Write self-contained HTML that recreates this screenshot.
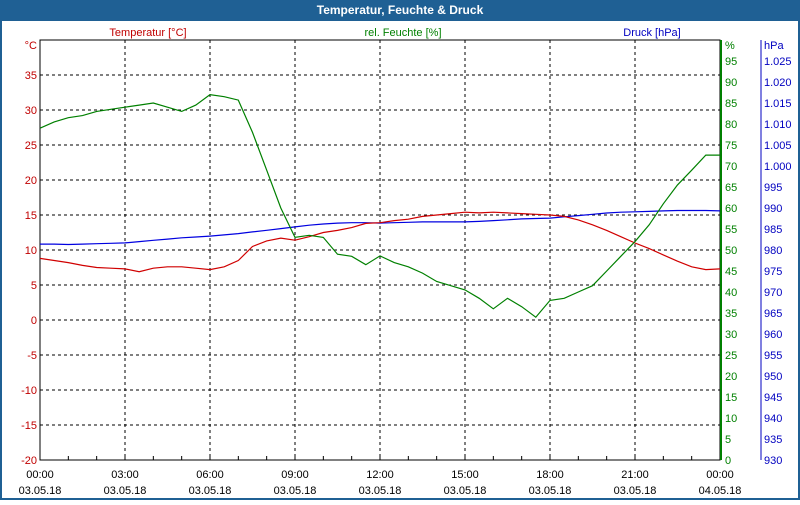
<!DOCTYPE html>
<html><head><meta charset="utf-8"><style>
body{margin:0;width:800px;height:500px;overflow:hidden;background:#fff;font-family:"Liberation Sans",sans-serif;}
</style></head><body>
<svg id="chart" width="800" height="500" xmlns="http://www.w3.org/2000/svg" font-family="Liberation Sans, sans-serif" font-size="11">
<rect x="0" y="0" width="800" height="500" fill="#1f6094"/>
<rect x="2" y="21" width="796" height="477" fill="#fff"/>
<text x="400" y="14" text-anchor="middle" fill="#fff" font-weight="bold" font-size="12">Temperatur, Feuchte &amp; Druck</text>
<text x="148" y="36" text-anchor="middle" fill="#c00000">Temperatur [°C]</text>
<text x="403" y="36" text-anchor="middle" fill="#008000">rel. Feuchte [%]</text>
<text x="652" y="36" text-anchor="middle" fill="#0000c0">Druck [hPa]</text>
<g id="grid"></g><g id="axes"></g><g id="series"></g>
</svg>
<script>
const hours=[0,0.5,1,1.5,2,2.5,3,3.5,4,4.5,5,5.5,6,6.5,7,7.5,8,8.5,9,9.5,10,10.5,11,11.5,12,12.5,13,13.5,14,14.5,15,15.5,16,16.5,17,17.5,18,18.5,19,19.5,20,20.5,21,21.5,22,22.5,23,23.5,24];
const tempValues=[8.8,8.5,8.2,7.8,7.5,7.4,7.3,6.9,7.4,7.6,7.6,7.4,7.2,7.6,8.5,10.5,11.3,11.7,11.4,11.9,12.5,12.8,13.2,13.8,13.9,14.2,14.4,14.8,15.0,15.2,15.4,15.3,15.4,15.3,15.2,15.1,15.0,14.8,14.3,13.6,12.8,11.9,11.0,10.2,9.3,8.4,7.6,7.2,7.3];
const humValues=[79,80.5,81.5,82,83,83.5,84,84.5,85,84,83,84.5,87,86.5,85.7,78,69,60,53,53.5,53,49,48.5,46.5,48.6,47,46,44.5,42.5,41.5,40.5,38.5,36,38.5,36.5,34,38,38.5,40,41.5,45,48.5,52,56,61,65.5,69,72.6,72.6];
const presValues=[981.4,981.4,981.3,981.4,981.5,981.6,981.7,982,982.3,982.6,982.9,983.1,983.3,983.6,983.9,984.3,984.7,985.1,985.5,985.9,986.2,986.4,986.5,986.5,986.4,986.5,986.6,986.7,986.7,986.7,986.7,986.8,987,987.2,987.4,987.5,987.6,987.9,988.2,988.5,988.8,989,989.1,989.2,989.3,989.4,989.4,989.4,989.3];
const tempTicks=[-20,-15,-10,-5,0,5,10,15,20,25,30,35];
const humTicks=[0,5,10,15,20,25,30,35,40,45,50,55,60,65,70,75,80,85,90,95];
const presTicks=[930,935,940,945,950,955,960,965,970,975,980,985,990,995,1000,1005,1010,1015,1020,1025];
const timeLabels=["00:00","03:00","06:00","09:00","12:00","15:00","18:00","21:00","00:00"];
const dateLabels=["03.05.18","03.05.18","03.05.18","03.05.18","03.05.18","03.05.18","03.05.18","03.05.18","04.05.18"];
const L=40,R=720,T=40,B=460,NS="http://www.w3.org/2000/svg";
const x=h=>L+h*(R-L)/24;
const yT=v=>B-(v+20)*(B-T)/60;
const yH=v=>B-v*(B-T)/100;
const yP=v=>B-(v-930)*(B-T)/100;
function mk(p,tag,attrs){const e=document.createElementNS(NS,tag);for(const k in attrs)e.setAttribute(k,attrs[k]);document.getElementById(p).appendChild(e);return e;}
// grid
for(let i=1;i<timeLabels.length-1;i++){const e=mk('grid','line',{x1:x(i*3),x2:x(i*3),y1:T,y2:B,stroke:'#000','stroke-dasharray':'3,3'});

}
tempTicks.forEach(v=>{if(v===-20)return;const e=mk('grid','line',{x1:L,x2:R,y1:yT(v),y2:yT(v),stroke:'#000','stroke-dasharray':'3,3'});

});
// axes
let a=mk('axes','rect',{x:L,y:T,width:R-L,height:B-T,fill:'none',stroke:'#000'});


a=mk('axes','line',{x1:R+1,x2:R+1,y1:T,y2:B,stroke:'#008000','stroke-width':2});


a=mk('axes','line',{x1:761,x2:761,y1:T,y2:B,stroke:'#0000c0'});


for(let h=1;h<24;h++){const e=mk('axes','line',{x1:x(h),x2:x(h),y1:B-4,y2:B,stroke:'#000'});

}
tempTicks.forEach(v=>{const t=mk('axes','text',{x:L-3,y:yT(v)+4,'text-anchor':'end',fill:'#c00000'});t.textContent=v;

});
a=mk('axes','text',{x:L-3,y:T+9,'text-anchor':'end',fill:'#c00000'});a.textContent='°C';


humTicks.forEach(v=>{const t=mk('axes','text',{x:R+5,y:yH(v)+4,fill:'#008000'});t.textContent=v;

});
a=mk('axes','text',{x:R+5,y:T+9,fill:'#008000'});a.textContent='%';


presTicks.forEach(v=>{const t=mk('axes','text',{x:764,y:yP(v)+4,fill:'#0000c0'});t.textContent=v===1000?'1.000':v>1000?('1.0'+String(v).slice(2)):v;

});
a=mk('axes','text',{x:764,y:T+9,fill:'#0000c0'});a.textContent='hPa';


timeLabels.forEach((s,i)=>{const t=mk('axes','text',{x:x(i*3),y:478,'text-anchor':'middle',fill:'#000'});t.textContent=s;


const d=mk('axes','text',{x:x(i*3),y:494,'text-anchor':'middle',fill:'#000'});d.textContent=dateLabels[i];

});
// series
function line(vals,yf,color,name){const pts=vals.map((v,i)=>x(hours[i]).toFixed(1)+','+yf(v).toFixed(1)).join(' ');
const e=mk('series','polyline',{points:pts,fill:'none',stroke:color,'stroke-width':1.2});

}
line(presValues,yP,'#0000e0','pressure-line');
line(tempValues,yT,'#d00000','temperature-line');
line(humValues,yH,'#008000','humidity-line');
</script>
</body></html>
